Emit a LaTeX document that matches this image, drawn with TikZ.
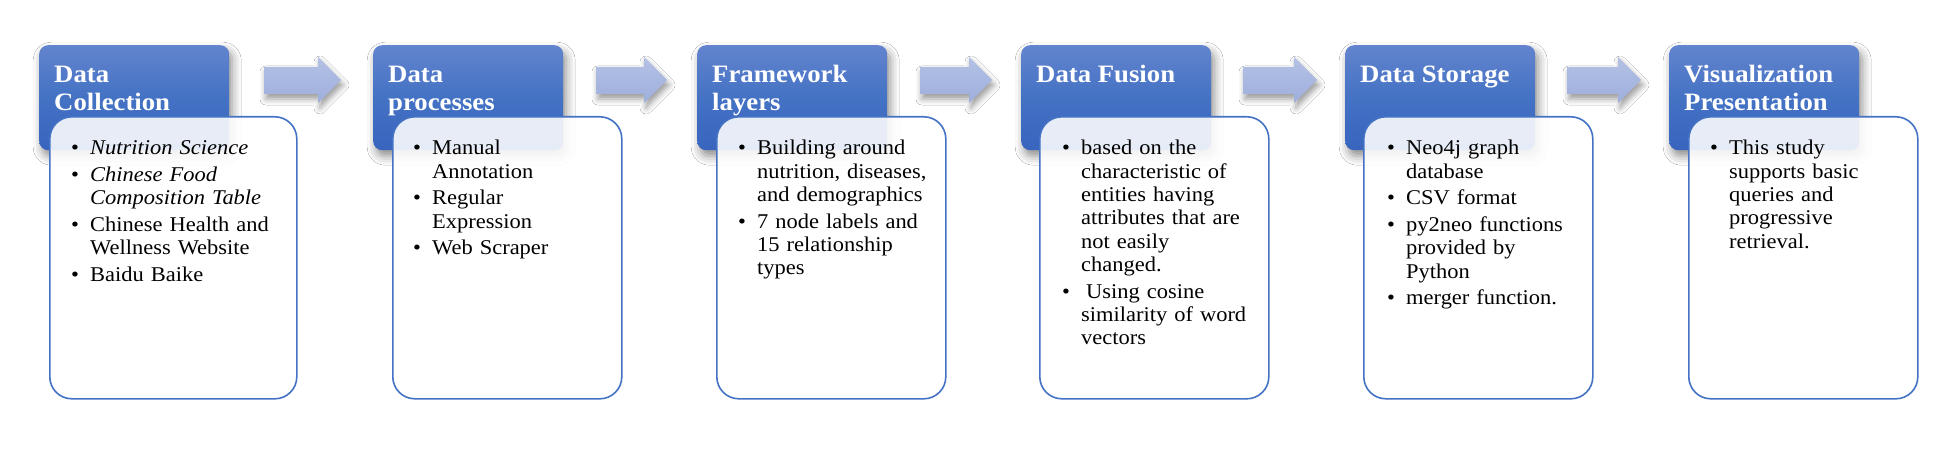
\documentclass[tikz,border=0pt]{standalone}
\usepackage{fontspec}
\setmainfont{Liberation Serif}[FakeStretch=1.07]
\usetikzlibrary{shadows.blur}
\definecolor{hdTop}{RGB}{99,132,206}
\definecolor{hdMid}{RGB}{68,114,196}
\definecolor{hdBot}{RGB}{56,100,190}
\definecolor{bxLine}{RGB}{68,114,196}
\definecolor{arTop}{RGB}{180,193,229}
\definecolor{arBot}{RGB}{158,175,220}
\newcommand\bitem[1]{\par\noindent\hangindent=19pt\hangafter=1\makebox[19pt][l]{\rule{0pt}{17pt}\textbullet}#1}
\newcommand\nl{\hfil\break}
\tikzset{
  hdr/.style={draw=none, rounded corners=9pt, top color=hdTop, bottom color=hdBot, middle color=hdMid,
    blur shadow={shadow xshift=3pt, shadow yshift=-6pt, shadow blur radius=9pt, shadow opacity=45},
    minimum width=190pt, minimum height=105pt, anchor=north west, inner sep=0pt},
  hdrtext/.style={text=white, font=\fontsize{25}{28}\selectfont\bfseries, align=left, anchor=north west, inner sep=0pt},
  bx/.style={draw=bxLine, line width=1.6pt, rounded corners=22pt, fill=white, fill opacity=0.88,
    minimum height=282pt, anchor=north west, inner sep=0pt},
  bxtext/.style={text width=235pt, font=\fontsize{21}{23.3}\selectfont, anchor=north west, inner sep=0pt, text=black},
  blk/.style={top color=arTop, bottom color=arBot, draw=none,
    blur shadow={shadow xshift=2pt, shadow yshift=-5pt, shadow blur radius=6pt, shadow opacity=40}}
}
\begin{document}
\begin{tikzpicture}[x=1pt,y=-1pt]
\useasboundingbox (0,0) rectangle (1949,457);
\fill[white] (0,0) rectangle (1949,457);
% block arrows
\foreach \a/\b in {264/341, 596/667, 920/992, 1243/1317, 1567/1641}
  \path[blk] (\a,67) -- ({\b-23},67) -- ({\b-23},57) -- (\b,80) -- ({\b-23},103) -- ({\b-23},94) -- (\a,94) -- cycle;
% headers
\node[hdr] (h1) at (39,45) {};
\node[hdr] (h2) at (373,45) {};
\node[hdr] (h3) at (697,45) {};
\node[hdr] (h4) at (1021,45) {};
\node[hdr] (h5) at (1345,45) {};
\node[hdr] (h6) at (1669,45) {};
\node[hdrtext] (t1) at (54,62) {\rule{0pt}{20pt}Data\\Collection};
\node[hdrtext] (t2) at (388,62) {\rule{0pt}{20pt}Data\\processes};
\node[hdrtext] (t3) at (712,62) {\rule{0pt}{20pt}Framework\\layers};
\node[hdrtext] (t4) at (1036,62) {\rule{0pt}{20pt}Data Fusion};
\node[hdrtext] (t5) at (1360,62) {\rule{0pt}{20pt}Data Storage};
\node[hdrtext] (t6) at (1684,62) {\rule{0pt}{20pt}Visualization\\Presentation};
% content boxes
\node[bx, minimum width=247pt] (b1) at (49,116) {};
\node[bx, minimum width=229pt] (b2) at (392,116) {};
\node[bx, minimum width=229pt] (b3) at (716,116) {};
\node[bx, minimum width=229pt] (b4) at (1039,116) {};
\node[bx, minimum width=229pt] (b5) at (1363,116) {};
\node[bx, minimum width=229pt] (b6) at (1688,116) {};
% contents
\node[bxtext] (c1) at (71,128) {\setlength{\parskip}{3.4pt}%
\bitem{\textit{Nutrition Science}}
\bitem{\textit{Chinese Food\nl Composition Table}}
\bitem{Chinese Health and\nl Wellness Website}
\bitem{Baidu Baike}\par};
\node[bxtext] (c2) at (413,128) {\setlength{\parskip}{3.4pt}%
\bitem{Manual\nl Annotation}
\bitem{Regular\nl Expression}
\bitem{Web Scraper}\par};
\node[bxtext] (c3) at (738,128) {\setlength{\parskip}{3.4pt}%
\bitem{Building around\nl nutrition, diseases,\nl and demographics}
\bitem{7 node labels and\nl 15 relationship\nl types}\par};
\node[bxtext] (c4) at (1062,128) {\setlength{\parskip}{3.4pt}%
\bitem{based on the\nl characteristic of\nl entities having\nl attributes that are\nl not easily\nl changed.}
\bitem{\hspace{5pt}Using cosine\nl similarity of word\nl vectors}\par};
\node[bxtext] (c5) at (1387,128) {\setlength{\parskip}{3.4pt}%
\bitem{Neo4j graph\nl database}
\bitem{CSV format}
\bitem{py2neo functions\nl provided by\nl Python}
\bitem{merger function.}\par};
\node[bxtext] (c6) at (1710,128) {\setlength{\parskip}{3.4pt}%
\bitem{This study\nl supports basic\nl queries and\nl progressive\nl retrieval.}\par};
\end{tikzpicture}
\end{document}
